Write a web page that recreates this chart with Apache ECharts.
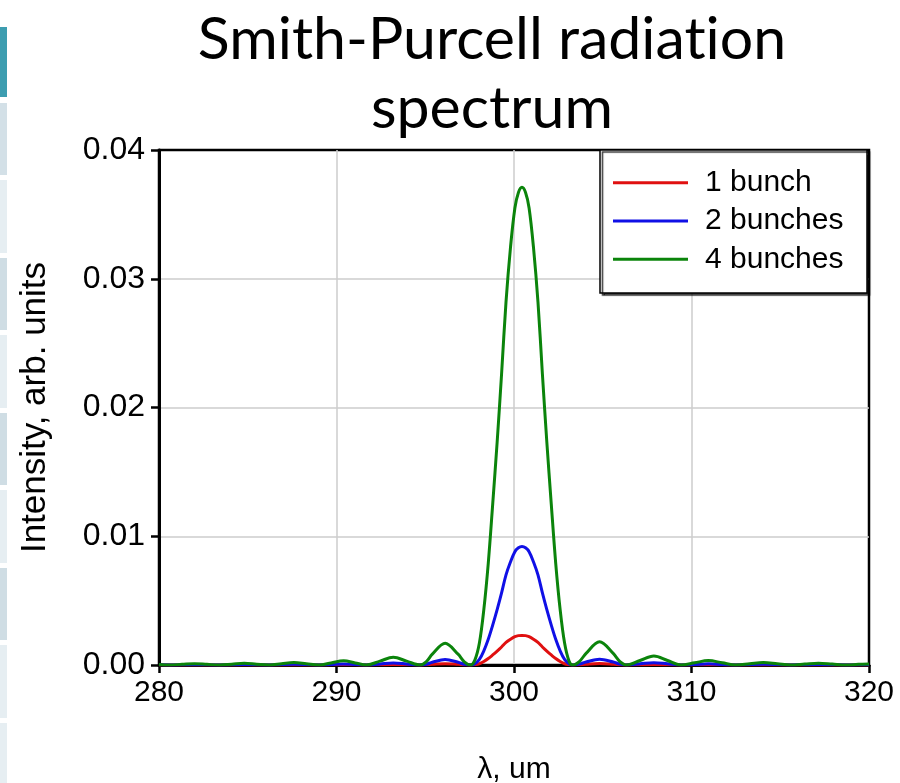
<!DOCTYPE html>
<html>
<head>
<meta charset="utf-8">
<script src="https://cdn.jsdelivr.net/npm/echarts@6/dist/echarts.min.js"></script>
<style>
html,body{margin:0;padding:0;background:#fff;}
#chart{width:900px;height:783px;}
</style>
</head>
<body>
<div id="chart"></div>
<script>
// ---- data ----
const seriesNames = ['1 bunch', '2 bunches', '4 bunches'];
const xTicks = [280, 290, 300, 310, 320];
const yTicks = [0.00, 0.01, 0.02, 0.03, 0.04];

const wavelength = [
  280.0, 280.6, 281.3, 282.0, 282.7, 283.4, 284.1, 284.8, 285.5, 286.2,
  286.9, 287.6, 288.3, 289.0, 289.7, 290.4, 291.05, 291.7, 292.45, 293.2,
  293.95, 294.7, 295.05, 295.4, 296.12, 296.85, 297.2, 297.55,
  297.8, 298.05, 298.3, 298.55, 298.8, 299.05, 299.3, 299.55, 299.8, 300.05, 300.25,
  300.45,
  300.65, 300.85, 301.1, 301.35, 301.6, 301.85, 302.1, 302.35, 302.6, 302.85, 303.1, 303.3,
  303.68, 304.06, 304.82, 305.59, 305.97, 306.35,
  307.1, 307.88, 308.65, 309.4, 310.18, 310.95, 311.73, 312.5,
  313.28, 314.05, 314.83, 315.6, 316.38, 317.15, 317.93, 318.7, 319.4, 320.0
];

const oneBunch = [
  0, 0, 0.000003, 0.000005, 0.000003, 0, 0.000005, 0.00001, 0.000005, 0,
  0.000005, 0.00001, 0.000005, 0, 0.00001, 0.00002, 0.00001, 0, 0.00002, 0.00004,
  0.00002, 0, 0.00002, 0.00005, 0.0001, 0.00005, 0.00002, 0,
  0.00003, 0.0001, 0.00027, 0.0005, 0.00078, 0.00108, 0.0014, 0.00175, 0.002, 0.0022, 0.00228,
  0.0023,
  0.00228, 0.0022, 0.002, 0.00175, 0.0014, 0.00108, 0.00078, 0.0005, 0.00027, 0.0001, 0.00003, 0,
  0.00002, 0.00006, 0.00011, 0.00006, 0.00002, 0,
  0.00002, 0.00004, 0.00002, 0, 0.00001, 0.00002, 0.00001, 0,
  0.000005, 0.00001, 0.000005, 0, 0.000005, 0.00001, 0.000005, 0, 0.000003, 0.000005
];

const twoBunches = [
  0.00001, 0, 0.00001, 0.00002, 0.00001, 0, 0.000015, 0.00003, 0.000015, 0,
  0.00003, 0.00005, 0.00003, 0, 0.00004, 0.00008, 0.00004, 0, 0.00008, 0.00015,
  0.00008, 0, 0.00006, 0.00021, 0.00042, 0.00021, 0.00006, 0,
  0.0001, 0.00043, 0.0011, 0.002, 0.0031, 0.0043, 0.0056, 0.007, 0.008, 0.0088, 0.0091,
  0.0092,
  0.0091, 0.0088, 0.008, 0.007, 0.0056, 0.0043, 0.0031, 0.002, 0.0011, 0.00043, 0.0001, 0,
  0.00007, 0.00023, 0.00045, 0.00023, 0.00007, 0,
  0.00009, 0.00018, 0.00009, 0, 0.00004, 0.00009, 0.00004, 0,
  0.00003, 0.00005, 0.00003, 0, 0.00002, 0.00004, 0.00002, 0, 0.00001, 0.00002
];

const fourBunches = [
  0.00004, 0, 0.00005, 0.0001, 0.00005, 0, 0.00006, 0.00013, 0.00006, 0,
  0.0001, 0.0002, 0.0001, 0, 0.00016, 0.00033, 0.00016, 0, 0.0003, 0.0006,
  0.0003, 0, 0.00025, 0.00084, 0.00168, 0.00084, 0.00025, 0,
  0.0004, 0.0017, 0.0043, 0.0079, 0.0125, 0.0173, 0.0226, 0.0282, 0.0324, 0.0355, 0.0367,
  0.0371,
  0.0367, 0.0355, 0.0324, 0.0282, 0.0226, 0.0173, 0.0125, 0.0079, 0.0043, 0.0017, 0.0003, 0,
  0.00027, 0.0009, 0.0018, 0.0009, 0.00027, 0,
  0.00035, 0.0007, 0.00035, 0, 0.00017, 0.00034, 0.00017, 0,
  0.0001, 0.0002, 0.0001, 0, 0.00007, 0.00014, 0.00007, 0, 0.00005, 0.00008
];

const colors = ['#e01010', '#1010e6', '#0b840b'];

function pairs(ys) { return wavelength.map((x, i) => [x, ys[i]]); }

// ---- side decoration (slide strip) ----
const stripRects = [
  {y: 27, h: 70, c: '#3d9db0'},
  {y: 103, h: 72, c: '#d3e0e7'},
  {y: 180, h: 73, c: '#e6eef2'},
  {y: 258, h: 72, c: '#cfdde4'},
  {y: 335, h: 73, c: '#e6eef2'},
  {y: 413, h: 72, c: '#cfdde4'},
  {y: 490, h: 73, c: '#e6eef2'},
  {y: 568, h: 72, c: '#cfdde4'},
  {y: 645, h: 73, c: '#e6eef2'},
  {y: 723, h: 60, c: '#e6eef2'}
];

const chart = echarts.init(document.getElementById('chart'), null, {renderer: 'canvas'});

const graphics = stripRects.map(r => ({
  type: 'rect', shape: {x: 0, y: r.y, width: 7, height: r.h},
  style: {fill: r.c}, z: 1, silent: true
}));
graphics.push({
  type: 'rect', shape: {x: 600, y: 150, width: 267, height: 143},
  style: {fill: '#fff', stroke: '#000', lineWidth: 1.5,
          shadowColor: 'rgba(0,0,0,0.8)', shadowOffsetX: 2.5, shadowOffsetY: 2, shadowBlur: 1},
  z: 50, silent: true
});

const titleFont = {fontFamily: 'Lato', fontWeight: 'normal', fontSize: 59, lineHeight: 69, color: '#000'};

const option = {
  backgroundColor: '#ffffff',
  animation: false,
  title: {
    text: '{t|Smith-Purcell radiat}{t|ion}\n{t|spectrum}',
    left: 487, top: 0, textAlign: 'center',
    textStyle: Object.assign({rich: {t: titleFont}}, titleFont)
  },
  graphic: graphics,
  legend: {
    data: seriesNames,
    orient: 'vertical',
    left: 600, top: 150,
    padding: [17, 10, 10, 13],
    itemWidth: 75, itemHeight: 3, itemGap: 7,
    icon: 'rect',
    z: 60,
    textStyle: {fontFamily: 'Liberation Sans', fontSize: 30, color: '#000', lineHeight: 31.3, padding: [0, 0, 0, 12]}
  },
  grid: {
    left: 159, right: 31, top: 150, bottom: 118,
    outerBoundsMode: 'none', containLabel: false,
    show: true, borderColor: '#000', borderWidth: 2.5, backgroundColor: 'transparent'
  },
  xAxis: {
    type: 'value', min: xTicks[0], max: xTicks[xTicks.length - 1], interval: 10,
    name: 'λ, um', nameLocation: 'middle', nameGap: 90,
    nameTextStyle: {fontFamily: 'Liberation Sans', fontSize: 30, color: '#000'},
    axisLine: {show: true, onZero: false, lineStyle: {color: '#000', width: 3}},
    axisTick: {show: true, inside: false, length: 8, lineStyle: {color: '#000', width: 2.5}},
    axisLabel: {fontFamily: 'Liberation Sans', fontSize: 30, color: '#000', margin: 13},
    splitLine: {show: true, showMinLine: false, showMaxLine: false, lineStyle: {color: '#cccccc', width: 1.5}}
  },
  yAxis: {
    type: 'value', min: yTicks[0], max: yTicks[yTicks.length - 1], interval: 0.01,
    name: 'Intensity, arb. units', nameLocation: 'middle', nameGap: 106,
    nameTextStyle: {fontFamily: 'Liberation Sans', fontSize: 35, color: '#000'},
    axisLine: {show: true, onZero: false, lineStyle: {color: '#000', width: 3}},
    axisTick: {show: true, inside: false, length: 8, lineStyle: {color: '#000', width: 2.5}},
    axisLabel: {fontFamily: 'Liberation Sans', fontSize: 32, color: '#000', margin: 14,
                formatter: v => v.toFixed(2)},
    splitLine: {show: true, showMinLine: false, showMaxLine: false, lineStyle: {color: '#cccccc', width: 1.5}}
  },
  series: [oneBunch, twoBunches, fourBunches].map((ys, i) => ({
    name: seriesNames[i], type: 'line', data: pairs(ys),
    showSymbol: false, smooth: 0.35,
    lineStyle: {color: colors[i], width: 3}, itemStyle: {color: colors[i]},
    z: 2 + i
  }))
};
chart.setOption(option);
</script>
</body>
</html>
